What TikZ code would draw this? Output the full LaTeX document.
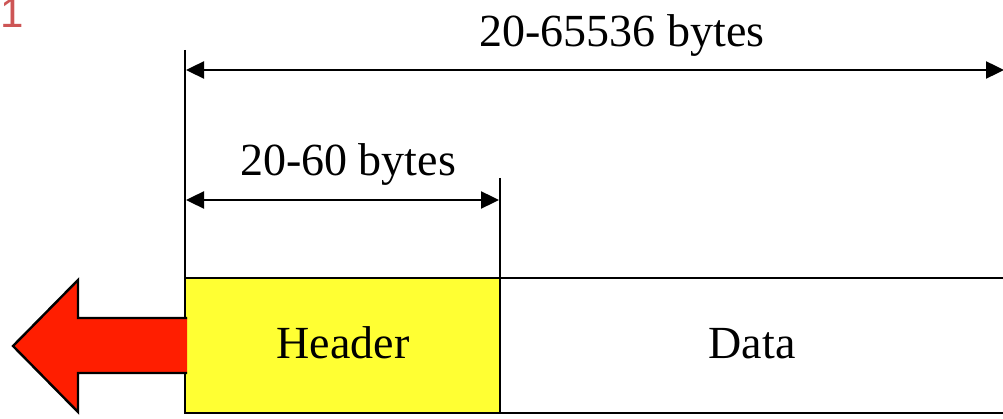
\documentclass[tikz,border=0pt]{standalone}
\usepackage{fontspec}
\setmainfont{Liberation Serif}
\newfontfamily\labelsans{Liberation Sans}
\usetikzlibrary{arrows.meta}
\definecolor{hdryellow}{RGB}{255,255,51}
\definecolor{flowred}{RGB}{255,30,0}
\definecolor{pagenum}{RGB}{205,85,85}
\tikzset{
  x=1pt, y=-1pt,
  rule/.style={line width=2.6pt, black},
  dim/.style={line width=2.4pt, black, {Triangle[length=18pt,width=17pt]}-{Triangle[length=18pt,width=17pt]}},
  lbl/.style={font=\fontsize{46}{50}\selectfont, inner sep=0pt, anchor=base},
}
\begin{document}
\begin{tikzpicture}
\useasboundingbox (0,0) rectangle (1003,419);

% page number in the corner
\node[anchor=base west, inner sep=0pt, text=pagenum, font=\labelsans\fontsize{42}{46}\selectfont] (pnum) at (0,28) {1};

% datagram: header and data fields
\node[draw, rule, fill=hdryellow, minimum width=315pt, minimum height=135pt, anchor=north west, inner sep=0pt, outer sep=0pt] (hdr) at (185,278) {};
\node[lbl] (hdrtxt) at (343,358) {Header};
\draw[rule] (hdr.north east) -- (1010,278) coordinate (dtr);
\draw[rule] (hdr.south east) -- (1010,413) coordinate (dbr);
\node[lbl] (datatxt) at (752,358) {Data};

% extension lines
\coordinate (ltop) at (185,50);
\coordinate (mtop) at (500,178);
\draw[rule] (ltop) -- (hdr.south west);
\draw[rule] (mtop) -- (hdr.north east);

% dimension arrows
\coordinate (a1l) at (186,70);
\coordinate (a1r) at (1004,70);
\draw[dim] (a1l) -- (a1r);
\node[lbl] (totlen) at (622,47) {20-65536 bytes};

\coordinate (a2l) at (186,200);
\coordinate (a2r) at (499,200);
\draw[dim] (a2l) -- (a2r);
\node[lbl] (hdrlen) at (348,176) {20-60 bytes};

% outgoing direction arrow
\draw[line width=2.4pt, fill=flowred, line join=miter]
  (187,318) -- (78,318) -- (78,280) -- (13,346) -- (78,412) -- (78,373) -- (187,373);
\end{tikzpicture}
\end{document}
